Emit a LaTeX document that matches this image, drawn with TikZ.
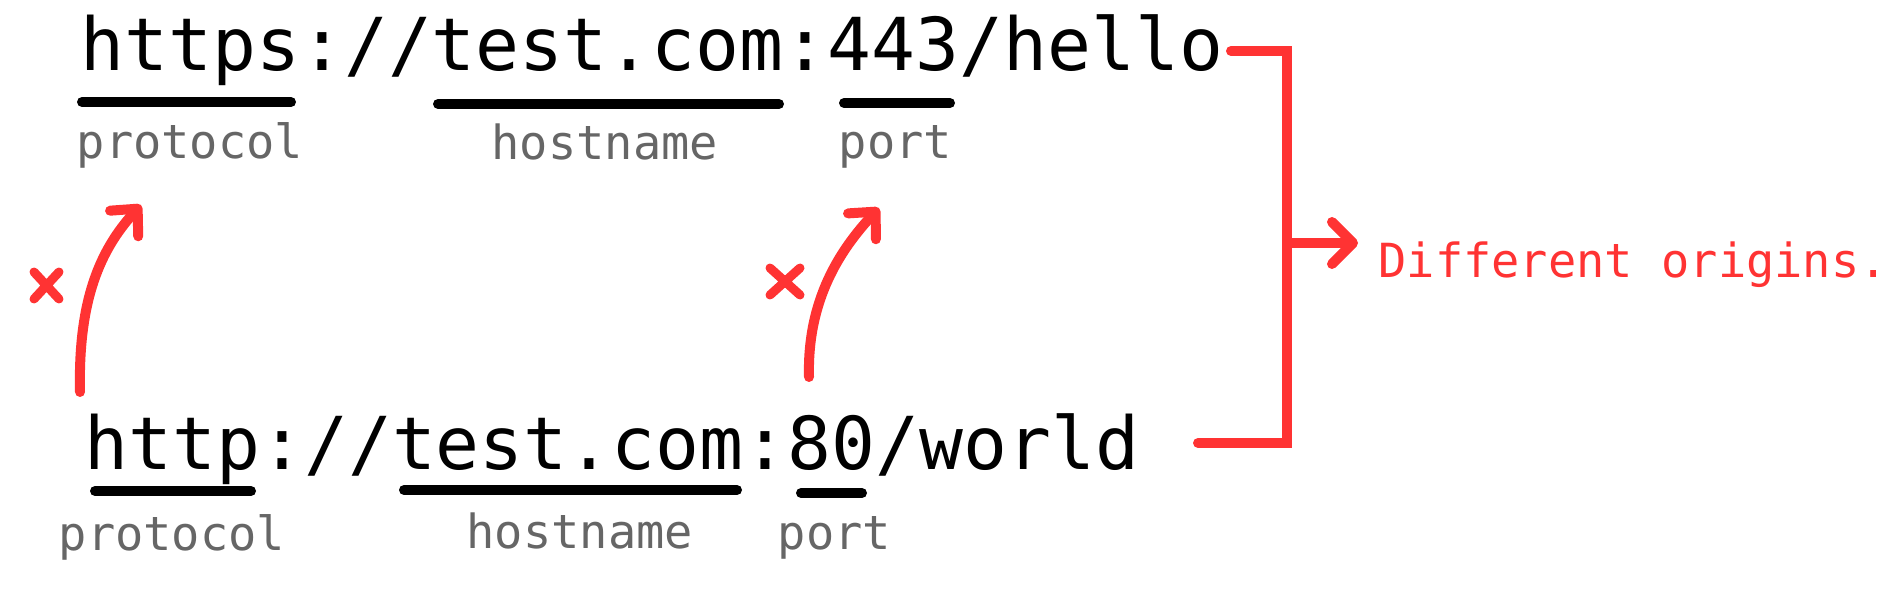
\documentclass[tikz,border=0pt]{standalone}
\usepackage{fontspec}
\newfontfamily\monofam{DejaVu Sans Mono}
\usetikzlibrary{arrows.meta}
\definecolor{redc}{HTML}{FF3333}
\definecolor{grayc}{HTML}{666666}
\begin{document}
\begin{tikzpicture}[x=1pt,y=-1pt,
  url/.style={anchor=base west, inner sep=0pt, outer sep=0pt, font=\monofam\fontsize{73}{80}\selectfont},
  lbl/.style={anchor=base west, inner sep=0pt, outer sep=0pt, text=grayc, font=\monofam\fontsize{47}{52}\selectfont},
  note/.style={anchor=base west, inner sep=0pt, outer sep=0pt, text=redc, font=\monofam\fontsize{47}{52}\selectfont},
  uline/.style={line width=10pt, line cap=round},
  redline/.style={draw=redc, line width=10pt, line cap=round},
  barb/.style={-{Straight Barb[length=20pt,width=38pt,round]}}
]
\useasboundingbox (0,0) rectangle (1898,601);
% URLs
\node[url] (u1) at (80.4,70.7) {https://test.com:443/hello};
\node[url] (u2) at (84.4,469) {http://test.com:80/world};
% underlines top
\draw[uline] (82,102) -- (291,102);
\draw[uline] (438,104) -- (779,104);
\draw[uline] (844,103) -- (950,103);
% underlines bottom
\draw[uline] (95,491) -- (251,491);
\draw[uline] (404,490) -- (737,490);
\draw[uline] (801,493) -- (862,493);
% labels
\node[lbl] (p1) at (76.8,159) {protocol};
\node[lbl] (h1) at (491.7,160) {hostname};
\node[lbl] (o1) at (838.8,159) {port};
\node[lbl] (p2) at (58.8,550) {protocol};
\node[lbl] (h2) at (466.7,548) {hostname};
\node[lbl] (o2) at (777.8,549) {port};
% bracket
\coordinate (bt) at (1231,51);
\coordinate (bb) at (1198,443);
\coordinate (bm) at (1287,243);
\draw[redline] (bt) -- (1287,51) -- (1287,443) -- (bb);
\node[note] (diff) at (1378.5,278) {Different origins.};
\coordinate (tipd) at (1358,243);
\draw[redline, -{Straight Barb[length=21pt,width=42pt,round]}] (bm) -- (tipd);
% curved arrows
\coordinate (a1s) at (80,392);
\coordinate (a1e) at (141,205);
\draw[redline, barb] (a1s) .. controls (78,300) and (100,250) .. (a1e);
\coordinate (a2s) at (809,377);
\coordinate (a2e) at (879,208);
\draw[redline, barb] (a2s) .. controls (807,300) and (840,250) .. (a2e);
% crosses
\draw[redline, line width=9pt] (34,272) -- (59,299) (59,272) -- (34,299);
\draw[redline, line width=9pt] (770,268) -- (800,295) (800,268) -- (770,295);
\end{tikzpicture}
\end{document}
